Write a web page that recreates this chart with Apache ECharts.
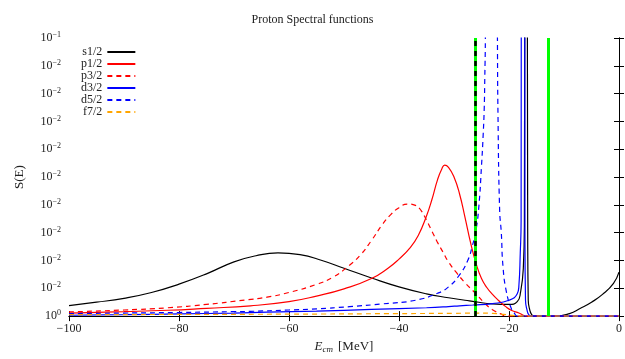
<!DOCTYPE html>
<html>
<head>
<meta charset="utf-8">
<script src="https://cdn.jsdelivr.net/npm/echarts@6/dist/echarts.min.js"></script>
<style>
  html, body { margin: 0; padding: 0; background: #fff; }
  #chart { width: 625px; height: 359px; }
</style>
</head>
<body>
<div id="chart"></div>
<script>
// Energies (MeV) and spectral strengths S(E) for each proton partial wave
const s12E = [-100, -95, -90, -85, -80, -75, -70, -66, -62, -58, -54, -50, -45, -40, -35, -31, -28, -26, -23, -20, -18.5, -17.9, -17.4, -17.2, -17.1, -16.7, -16.6, -16.5, -16.2, -15.9, -15.5, -11.5, -9, -7, -5, -3, -1, 0];
const s12S = [0.0038, 0.0050, 0.0064, 0.0085, 0.0115, 0.0152, 0.0195, 0.0217, 0.0227, 0.0221, 0.0200, 0.0172, 0.0137, 0.0105, 0.0080, 0.0066, 0.0057, 0.0051, 0.0044, 0.0042, 0.0052, 0.0086, 0.017, 0.034, 0.15, 0.15, 0.030, 0.0057, 0.002, 0.0006, 0, 0, 0.0009, 0.0028, 0.0050, 0.0078, 0.0118, 0.0158];

const p12E = [-100, -90, -82, -75, -67, -60, -55, -50, -45, -42, -40, -38, -36.5, -35, -34, -33, -32.2, -31.7, -31, -30, -29, -28, -27, -26, -25, -24, -23, -22, -20.6, -19.5, -18.2, -17.5, -17, 0];
const p12S = [0.0011, 0.0016, 0.0021, 0.0028, 0.0037, 0.0052, 0.0072, 0.0098, 0.0135, 0.0172, 0.0205, 0.0245, 0.0290, 0.0360, 0.0420, 0.0490, 0.0530, 0.0543, 0.0535, 0.0500, 0.0440, 0.0355, 0.0265, 0.0190, 0.0135, 0.0102, 0.0078, 0.0058, 0.0034, 0.0020, 0.0011, 0.0004, 0, 0];

const p32E = [-100, -90, -82, -75, -68, -64, -60, -55, -52, -49, -47, -45, -43, -41.5, -40, -38.5, -37, -36, -35, -34, -33, -32, -31, -29.5, -28, -26, -24.5, -23, -21.5, -20.5, 0];
const p32S = [0.0015, 0.0022, 0.0030, 0.0042, 0.0058, 0.0068, 0.0085, 0.0114, 0.0140, 0.0183, 0.0220, 0.0272, 0.0330, 0.0365, 0.0390, 0.0403, 0.0398, 0.0380, 0.0345, 0.0305, 0.0265, 0.0230, 0.0195, 0.0155, 0.0120, 0.0080, 0.0048, 0.0023, 0.0008, 0, 0];

const d32E = [-100, -90, -80, -70, -64, -55, -45, -35, -31, -29, -26.6, -23, -20, -18.5, -18.2, -17.95, -17.8, -17.75, -17.15, -17.1, -17.0, -16.7, -16.4, -16, 0];
const d32S = [0.0003, 0.0005, 0.0008, 0.0011, 0.0014, 0.0018, 0.0024, 0.0030, 0.0034, 0.0037, 0.0040, 0.0045, 0.0057, 0.0080, 0.0110, 0.0228, 0.034, 0.15, 0.15, 0.030, 0.0057, 0.002, 0.0005, 0, 0];

const d52E = [-100, -90, -80, -70, -67, -60, -55, -49, -43, -37, -33, -31, -29, -27.5, -26.7, -26, -25.5, -25, -24.7, -24.5, -24.4, -24.3, -24.2, -22.2, -22.1, -22.0, -21.7, -21.4, -21.1, -20.5, -19.6, -19, -18.5, 0];
const d52S = [0.0009, 0.0011, 0.0013, 0.0016, 0.0017, 0.0022, 0.0026, 0.0034, 0.0044, 0.0057, 0.0082, 0.0105, 0.0148, 0.0200, 0.0250, 0.0310, 0.0390, 0.0540, 0.0650, 0.0750, 0.0860, 0.0990, 0.15, 0.15, 0.0990, 0.0720, 0.0380, 0.0300, 0.0180, 0.0090, 0.0028, 0.0010, 0, 0];

const f72E = [-100, -80, -60, -40, -30, -26, -23, -21, -19, -18, 0];
const f72S = [0.0005, 0.0006, 0.0007, 0.0009, 0.0010, 0.0011, 0.0010, 0.0006, 0.0002, 0, 0];

// Vertical reference energies (MeV)
const greenLineE = [-26.1, -12.9];
const dashedLineE = [-26.1];

// Axis ticks
const xTicks = [-100, -80, -60, -40, -20, 0];
const yTickExponents = ['0', '\u22122', '\u22122', '\u22122', '\u22122', '\u22122', '\u22122', '\u22122', '\u22122', '\u22122', '\u22121'];

const seriesNames = ['s1/2', 'p1/2', 'p3/2', 'd3/2', 'd5/2', 'f7/2'];

const SERIF = '"Liberation Serif", "DejaVu Serif", serif';

function pairs(es, vs) { return es.map((e, i) => [e, vs[i]]); }

function curve(name, es, vs, color, dashed) {
  return {
    name: name,
    type: 'line',
    data: pairs(es, vs),
    showSymbol: false,
    symbol: 'none',
    smooth: 0.5,
    clip: true,
    silent: true,
    lineStyle: { color: color, width: 1.2, type: dashed ? [5, 4] : 'solid' },
    itemStyle: { color: color }
  };
}

const chart = echarts.init(document.getElementById('chart'), null, { renderer: 'canvas' });

const axisLine = { show: true, lineStyle: { color: '#000', width: 1 } };
const innerTick = { show: true, inside: true, length: 5, lineStyle: { color: '#000' } };

chart.setOption({
  animation: false,
  backgroundColor: '#fff',
  title: {
    text: 'Proton Spectral functions',
    left: 'center',
    top: 9,
    textStyle: { fontFamily: SERIF, fontSize: 12, fontWeight: 'normal', color: '#222' }
  },
  legend: {
    data: seriesNames,
    orient: 'vertical',
    left: 76,
    top: 41,
    align: 'right',
    itemWidth: 28,
    itemHeight: 12,
    itemGap: 0,
    selectedMode: false,
    itemStyle: { opacity: 0 },
    textStyle: { fontFamily: SERIF, fontSize: 12, color: '#222' }
  },
  grid: { left: 69, right: 5, top: 38, bottom: 29, containLabel: false },
  xAxis: [{
    type: 'value',
    min: -100, max: 0, interval: 20,
    axisLine: axisLine,
    axisTick: innerTick,
    splitLine: { show: false },
    axisLabel: {
      margin: 7,
      fontFamily: SERIF, fontSize: 12, color: '#222',
      formatter: v => xTicks.includes(v) ? String(v).replace('-', '\u2212') : ''
    },
    name: '{i|E}{sub|cm}[MeV]',
    nameLocation: 'middle',
    nameGap: 19,
    nameTextStyle: {
      fontFamily: SERIF, fontSize: 13, color: '#222',
      rich: {
        i: { fontFamily: SERIF, fontStyle: 'italic', fontSize: 13, color: '#222' },
        sub: { fontFamily: SERIF, fontStyle: 'italic', fontSize: 9, color: '#222', verticalAlign: 'bottom', padding: [6, 5, 0, 0] }
      }
    }
  }, {
    type: 'value',
    position: 'top',
    min: -100, max: 0, interval: 20,
    axisLine: axisLine,
    axisTick: innerTick,
    axisLabel: { show: false },
    splitLine: { show: false }
  }],
  yAxis: [{
    type: 'value',
    min: 0, max: 0.1, interval: 0.01,
    axisLine: axisLine,
    axisTick: innerTick,
    splitLine: { show: false },
    axisLabel: {
      margin: 8,
      color: '#222',
      formatter: v => '{b|10}{s|' + yTickExponents[Math.round(v / 0.01)] + '}',
      rich: {
        b: { fontFamily: SERIF, fontSize: 12, color: '#222' },
        s: { fontFamily: SERIF, fontSize: 8, color: '#222', verticalAlign: 'top', padding: [0, 0, 6, 0] }
      }
    },
    name: 'S(E)',
    nameLocation: 'middle',
    nameGap: 43,
    nameRotate: 90,
    nameTextStyle: { fontFamily: SERIF, fontSize: 13, color: '#222' }
  }, {
    type: 'value',
    position: 'right',
    min: 0, max: 0.1, interval: 0.01,
    axisLine: axisLine,
    axisTick: innerTick,
    axisLabel: { show: false },
    splitLine: { show: false }
  }],
  series: [
    curve('s1/2', s12E, s12S, '#000000', false),
    curve('p1/2', p12E, p12S, '#ff0000', false),
    curve('p3/2', p32E, p32S, '#ff0000', true),
    curve('d3/2', d32E, d32S, '#0000ff', false),
    curve('d5/2', d52E, d52S, '#0000ff', true),
    curve('f7/2', f72E, f72S, '#ffa500', true),
    {
      name: 'markers',
      type: 'line',
      data: [],
      silent: true,
      markLine: {
        silent: true,
        symbol: ['none', 'none'],
        label: { show: false },
        lineStyle: { color: '#00ff00', width: 3, type: 'solid' },
        data: greenLineE.map(e => ({ xAxis: e }))
      }
    },
    {
      name: 'markers2',
      type: 'line',
      data: [],
      silent: true,
      markLine: {
        silent: true,
        symbol: ['none', 'none'],
        label: { show: false },
        lineStyle: { color: '#000', width: 2.5, type: [5, 5] },
        data: dashedLineE.map(e => ({ xAxis: e }))
      }
    }
  ]
});
</script>
</body>
</html>
